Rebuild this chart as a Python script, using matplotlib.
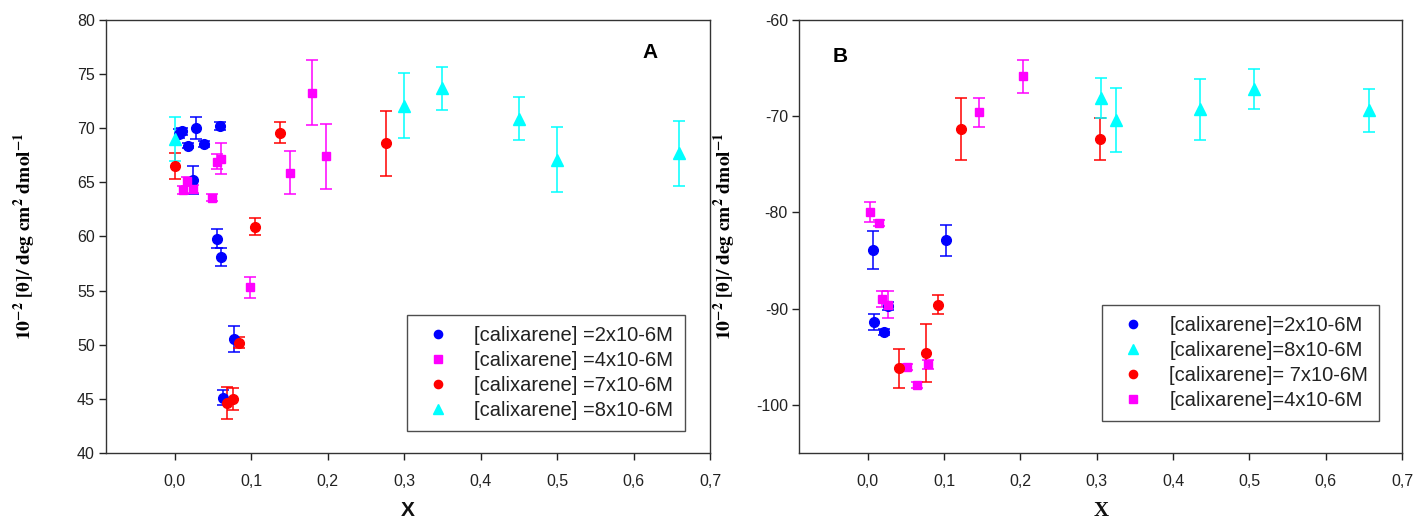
import matplotlib
matplotlib.use("Agg")
import matplotlib.pyplot as plt
from matplotlib.lines import Line2D
from matplotlib.ticker import FixedLocator, FuncFormatter

plt.rcParams['font.family'] = ['Liberation Sans', 'DejaVu Sans']
plt.rcParams['mathtext.fontset'] = 'stix'
plt.rcParams['axes.unicode_minus'] = False

# ---------------- Panel A data ----------------
a_blue_x = [0.005, 0.010, 0.017, 0.024, 0.028, 0.038, 0.055, 0.059, 0.060, 0.063, 0.077]
a_blue_y = [69.5, 69.7, 68.4, 65.2, 70.05, 68.55, 59.8, 70.2, 58.1, 45.1, 50.5]
a_blue_e = [0.4, 0.3, 0.2, 1.3, 1.0, 0.3, 0.9, 0.4, 0.8, 0.7, 1.2]

a_mag_x = [0.011, 0.016, 0.024, 0.048, 0.055, 0.061, 0.098, 0.151, 0.179, 0.198]
a_mag_y = [64.3, 65.1, 64.4, 63.6, 66.9, 67.2, 55.3, 65.9, 73.3, 67.4]
a_mag_e = [0.4, 0.4, 0.4, 0.3, 0.7, 1.4, 1.0, 2.0, 3.0, 3.0]

a_red_x = [0.0, 0.068, 0.076, 0.084, 0.105, 0.137, 0.276]
a_red_y = [66.5, 44.6, 45.0, 50.2, 60.9, 69.6, 68.6]
a_red_e = [1.2, 1.5, 1.0, 0.5, 0.8, 1.0, 3.0]

a_cyan_x = [0.0, 0.30, 0.35, 0.45, 0.50, 0.66]
a_cyan_y = [69.0, 72.1, 73.7, 70.9, 67.1, 67.7]
a_cyan_e = [2.0, 3.0, 2.0, 2.0, 3.0, 3.0]

a_labels = ['[calixarene] =2x10-6M', '[calixarene] =4x10-6M',
            '[calixarene] =7x10-6M', '[calixarene] =8x10-6M']

# ---------------- Panel B data ----------------
b_blue_x = [0.007, 0.008, 0.021, 0.026, 0.102]
b_blue_y = [-83.9, -91.4, -92.4, -89.7, -82.9]
b_blue_e = [2.0, 0.8, 0.3, 0.4, 1.6]

b_mag_x = [0.003, 0.015, 0.019, 0.027, 0.052, 0.065, 0.079, 0.146, 0.204]
b_mag_y = [-79.95, -81.1, -89.0, -89.6, -96.1, -97.9, -95.8, -69.6, -65.85]
b_mag_e = [1.0, 0.3, 0.8, 1.4, 0.3, 0.3, 0.5, 1.5, 1.7]

b_red_x = [0.041, 0.076, 0.092, 0.122, 0.304]
b_red_y = [-96.2, -94.6, -89.6, -71.3, -72.4]
b_red_e = [2.0, 3.0, 1.0, 3.2, 2.2]

b_cyan_x = [0.305, 0.325, 0.436, 0.506, 0.657]
b_cyan_y = [-68.1, -70.4, -69.3, -67.2, -69.4]
b_cyan_e = [2.1, 3.3, 3.2, 2.1, 2.2]

b_labels = ['[calixarene]=2x10-6M', '[calixarene]=8x10-6M',
            '[calixarene]= 7x10-6M', '[calixarene]=4x10-6M']

x_ticks = [0.0, 0.1, 0.2, 0.3, 0.4, 0.5, 0.6, 0.7]
a_yticks = [40, 45, 50, 55, 60, 65, 70, 75, 80]
b_yticks = [-100, -90, -80, -70, -60]

BLUE, MAG, RED, CYAN = '#0000ff', '#ff00ff', '#ff0000', '#00ffff'
style = {
    'blue': dict(color=BLUE, marker='o', ms=7),
    'mag': dict(color=MAG, marker='s', ms=6.3),
    'red': dict(color=RED, marker='o', ms=7),
    'cyan': dict(color=CYAN, marker='^', ms=8),
}

W, H = 1416, 523
fig = plt.figure(figsize=(W / 100, H / 100), dpi=100)
axA = fig.add_axes([106 / W, 1 - 453 / H, (710 - 106) / W, (453 - 20) / H])
axB = fig.add_axes([799 / W, 1 - 453 / H, (1402 - 799) / W, (453 - 20) / H])


def draw(ax, x, y, e, key):
    st = style[key]
    ax.errorbar(x, y, yerr=e, fmt=st['marker'], color=st['color'], ms=st['ms'],
                mec=st['color'], ecolor=st['color'], elinewidth=1.1,
                capsize=4.5, capthick=1.1, zorder=3)


comma = FuncFormatter(lambda v, p: f'{v:.1f}'.replace('.', ','))

for ax in (axA, axB):
    ax.set_xlim(-0.09, 0.7)
    ax.xaxis.set_major_locator(FixedLocator(x_ticks))
    ax.xaxis.set_major_formatter(comma)
    ax.tick_params(direction='out', length=5, width=1, labelsize=11.5,
                   colors='#222222')
    ax.tick_params(axis='x', pad=10)
    ax.tick_params(axis='y', pad=3)
    for s in ax.spines.values():
        s.set_linewidth(1.0)
        s.set_color('#333333')

draw(axA, a_blue_x, a_blue_y, a_blue_e, 'blue')
draw(axA, a_mag_x, a_mag_y, a_mag_e, 'mag')
draw(axA, a_red_x, a_red_y, a_red_e, 'red')
draw(axA, a_cyan_x, a_cyan_y, a_cyan_e, 'cyan')
axA.set_ylim(40, 80)
axA.yaxis.set_major_locator(FixedLocator(a_yticks))

draw(axB, b_blue_x, b_blue_y, b_blue_e, 'blue')
draw(axB, b_mag_x, b_mag_y, b_mag_e, 'mag')
draw(axB, b_red_x, b_red_y, b_red_e, 'red')
draw(axB, b_cyan_x, b_cyan_y, b_cyan_e, 'cyan')
axB.set_ylim(-105, -60)
axB.yaxis.set_major_locator(FixedLocator(b_yticks))


def handles(keys):
    out = []
    for k in keys:
        st = style[k]
        out.append(Line2D([], [], linestyle='none', marker=st['marker'],
                          color=st['color'], ms=st['ms'] * 0.85))
    return out


leg_kw = dict(loc='upper left', bbox_transform=fig.transFigure, borderaxespad=0,
              fontsize=14.5, frameon=True, fancybox=False, edgecolor='#222222',
              handlelength=2.0, handletextpad=0.8, borderpad=0.55,
              labelspacing=0.3)

legA = axA.legend(handles(['blue', 'mag', 'red', 'cyan']), a_labels,
                  bbox_to_anchor=(407 / W, 1 - 315 / H), **leg_kw)
legB = axB.legend(handles(['blue', 'cyan', 'red', 'mag']), b_labels,
                  bbox_to_anchor=(1102 / W, 1 - 305 / H), **leg_kw)
for leg in (legA, legB):
    leg.get_frame().set_linewidth(1.0)
    for t in leg.get_texts():
        t.set_color('#222222')

ylab = r'$\mathbf{10^{-2}\ [θ]/\ deg\ cm^{2}\ dmol^{-1}}$'
fig.text(25 / W, 1 - 236 / H, ylab, rotation=90, ha='center', va='center', fontsize=14)
fig.text(725 / W, 1 - 236 / H, ylab, rotation=90, ha='center', va='center', fontsize=14)

fig.text(408 / W, 1 - 511 / H, 'X', ha='center', va='center', fontsize=15,
         fontweight='bold', color='#111111')
fig.text(1101 / W, 1 - 511 / H, 'X', ha='center', va='center', fontsize=15,
         fontweight='bold', family=['Liberation Serif', 'DejaVu Serif'], color='#111111')

fig.text(650 / W, 1 - 52 / H, 'A', ha='center', va='center', fontsize=15, fontweight='bold')
fig.text(840 / W, 1 - 57 / H, 'B', ha='center', va='center', fontsize=15, fontweight='bold')

fig.savefig('out.png', dpi=100)
